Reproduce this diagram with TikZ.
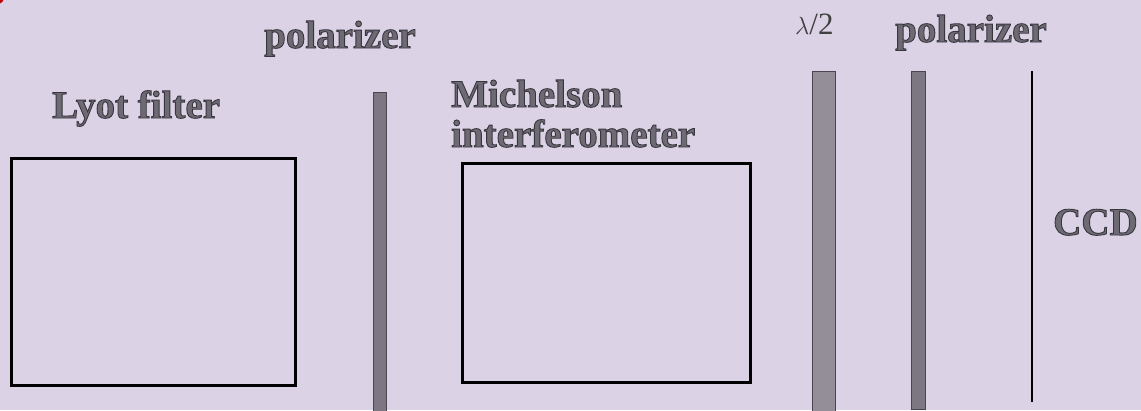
\documentclass[tikz,border=0pt]{standalone}
\usepackage{fontspec}
\setmainfont{Liberation Serif}
\usepackage{xcolor}
\usetikzlibrary{positioning}

\definecolor{bgLav}{RGB}{220,210,230}
\definecolor{txtGray}{RGB}{110,106,116}
\definecolor{barDark}{RGB}{124,119,130}
\definecolor{barLight}{RGB}{148,142,152}
\definecolor{barEdge}{RGB}{74,70,80}

% outlined text: fill in text colour, dark stroke round the glyphs
\newcommand\outltxt[1]{\special{pdf:literal direct 2 Tr 0.9 w 0.22 0.21 0.24 RG}#1\special{pdf:literal direct 0 Tr}}

\begin{document}
\begin{tikzpicture}[
  x=1pt, y=-1pt,
  lbl/.style={anchor=base west, inner sep=0pt, text=txtGray,
              font=\fontsize{39}{40}\selectfont\bfseries},
  box/.style={draw=black, line width=2.6pt, anchor=north west, inner sep=0pt},
  bar/.style={draw=barEdge, line width=0.8pt, anchor=north west, inner sep=0pt}
]
\useasboundingbox (0,0) rectangle (1141,410);
\fill[bgLav] (0,0) rectangle (1141,410);
\begin{scope}
  \clip (0,0) rectangle (1141,410);
  \fill[red!75!black] (-5,-5) circle (10);
\end{scope}

% filter boxes
\node[box, minimum width=284, minimum height=227] (lyot) at (10,157) {};
\node[box, minimum width=288, minimum height=219] (mich) at (461,162) {};

% plates
\node[bar, fill=barDark, minimum width=13, minimum height=330] (pol1) at (373,92) {};
\node[bar, fill=barLight, minimum width=23, minimum height=350] (half) at (812,71) {};
\node[bar, fill=barDark, minimum width=14, minimum height=338] (pol2) at (911,71) {};
\coordinate (ccdtop) at (1032,71);
\coordinate (ccdbot) at (1032,402);
\draw[line width=2.6pt] (ccdtop) -- (ccdbot);

% labels
\node[lbl] (lyotlbl) at (52,118) {\outltxt{Lyot filter}};
\node[lbl] (pol1lbl) at (264,48) {\outltxt{polarizer}};
\node[lbl] (michlbl) at (451,107) {\outltxt{Michelson}};
\node[lbl] (interlbl) at (451,147) {\outltxt{interferometer}};
\node[anchor=base west, inner sep=0pt, text=black!75,
      font=\fontsize{31}{32}\selectfont] (halflbl) at (795,34) {$\lambda$/2};
\node[lbl] (pol2lbl) at (895,42) {\outltxt{polarizer}};
\node[lbl] (ccdlbl) at (1053,235) {\outltxt{CCD}};
\end{tikzpicture}
\end{document}
